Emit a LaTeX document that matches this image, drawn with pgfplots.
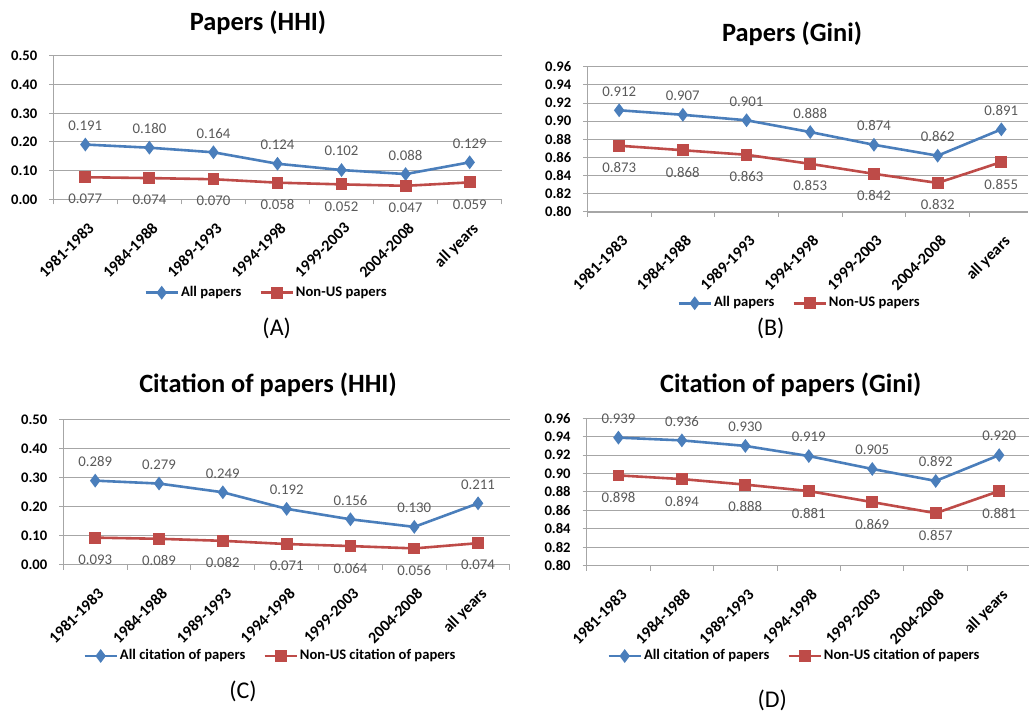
\documentclass[border=0pt]{standalone}
\usepackage{pgfplots}
\pgfplotsset{compat=1.18}
\usepackage{fontspec}
\setmainfont{Carlito}
\definecolor{xblue}{HTML}{4A7EBB}
\definecolor{xred}{HTML}{BE4B48}
\definecolor{gridgray}{HTML}{A6A6A6}
\definecolor{lblgray}{HTML}{595959}

\pgfplotsset{
 panel/.style={
  scale only axis, clip=false, anchor=south west,
  axis lines=left, axis line style={-, draw=gridgray, line width=0.6pt},
  ymajorgrids, grid style={draw=gridgray, line width=0.5pt},
  tick align=outside, major tick length=2pt, minor tick length=2.5pt,
  every tick/.style={draw=gridgray, line width=0.5pt},
  xtick={0,...,6},
  xticklabels={1981-1983,1984-1988,1989-1993,1994-1998,1999-2003,2004-2008,all years},
  minor xtick={-0.5,0.5,...,6.5},
  major x tick style={draw=none},
  x tick label style={yshift=-7.5pt, xshift=0.8pt, rotate=45, anchor=north east, font=\fontsize{8}{9}\selectfont\bfseries, inner sep=1pt},
  y tick label style={font=\fontsize{7.3}{8}\selectfont\bfseries, xshift=-2.5pt},
  yticklabel={\pgfmathprintnumber[fixed,fixed zerofill,precision=2,assume math mode=true]{\tick}},
  xmin=-0.5,
  legend columns=2,
  legend style={draw=none, fill=none, font=\fontsize{7.3}{8}\selectfont\bfseries, anchor=west, inner sep=0pt, nodes={inner sep=1pt}, /tikz/every even column/.append style={column sep=8pt}},
  legend image code/.code={\draw[mark repeat=2,mark phase=2] plot coordinates {(0pt,0pt) (8pt,0pt) (16pt,0pt)};},
  point meta=y,
  nodes near coords={\pgfmathprintnumber[fixed,fixed zerofill,precision=3,assume math mode=true]{\pgfplotspointmeta}},
  every node near coord/.append style={font=\fontsize{7.4}{8}\selectfont, text=lblgray, anchor=center},
 },
 allser/.style={color=xblue, line width=1.3pt, mark=diamond*, mark size=2.4pt, mark options={solid}, every node near coord/.append style={yshift=9.5pt}},
 nonus/.style={color=xred, line width=1.3pt, mark=square*, mark size=2.3pt, mark options={solid}, every node near coord/.append style={yshift=-11pt}},
}

\begin{document}
\begin{tikzpicture}
\useasboundingbox (0,0) rectangle (514.5pt,357.5pt);

% Panel A
\begin{axis}[panel, at={(26.65pt,257.85pt)}, width=224.2pt, height=71.65pt,
  xmax=6.5, ymin=0, ymax=0.5, ytick={0,0.1,0.2,0.3,0.4,0.5},
  legend style={at={(0.2023,-0.652)}}]
\addplot[allser] coordinates {(0,0.191) (1,0.180) (2,0.164) (3,0.124) (4,0.102) (5,0.088) (6,0.129)};
\addlegendentry{All papers}
\addplot[nonus] coordinates {(0,0.077) (1,0.074) (2,0.070) (3,0.058) (4,0.052) (5,0.047) (6,0.059)};
\addlegendentry{Non-US papers}
\end{axis}

% Panel B
\begin{axis}[panel, at={(293.65pt,251.5pt)}, width=220.4pt, height=72.65pt,
  xmax=6.42, ymin=0.8, ymax=0.96, ytick={0.80,0.82,0.84,0.86,0.88,0.90,0.92,0.94,0.96},
  legend style={at={(0.2035,-0.628)}}]
\addplot[allser] coordinates {(0,0.912) (1,0.907) (2,0.901) (3,0.888) (4,0.874) (5,0.862) (6,0.891)};
\addlegendentry{All papers}
\addplot[nonus] coordinates {(0,0.873) (1,0.868) (2,0.863) (3,0.853) (4,0.842) (5,0.832) (6,0.855)};
\addlegendentry{Non-US papers}
\end{axis}

% Panel C
\begin{axis}[panel, at={(31.65pt,75.15pt)}, width=223.35pt, height=72.7pt,
  xmax=6.5, ymin=0, ymax=0.5, ytick={0,0.1,0.2,0.3,0.4,0.5},
  legend style={at={(0.0441,-0.628)}}]
\addplot[allser] coordinates {(0,0.289) (1,0.279) (2,0.249) (3,0.192) (4,0.156) (5,0.130) (6,0.211)};
\addlegendentry{All citation of papers}
\addplot[nonus] coordinates {(0,0.093) (1,0.089) (2,0.082) (3,0.071) (4,0.064) (5,0.056) (6,0.074)};
\addlegendentry{Non-US citation of papers}
\end{axis}

% Panel D
\begin{axis}[panel, at={(293.35pt,74.65pt)}, width=221.15pt, height=73.7pt,
  xmax=6.47, ymin=0.8, ymax=0.96, ytick={0.80,0.82,0.84,0.86,0.88,0.90,0.92,0.94,0.96},
  legend style={at={(0.0459,-0.613)}}]
\addplot[allser] coordinates {(0,0.939) (1,0.936) (2,0.930) (3,0.919) (4,0.905) (5,0.892) (6,0.920)};
\addlegendentry{All citation of papers}
\addplot[nonus] coordinates {(0,0.898) (1,0.894) (2,0.888) (3,0.881) (4,0.869) (5,0.857) (6,0.881)};
\addlegendentry{Non-US citation of papers}
\end{axis}

\node[font=\fontsize{13.2}{15}\selectfont\bfseries] at (129pt,346.15pt) {Papers (HHI)};
\node[font=\fontsize{13.2}{15}\selectfont\bfseries] at (396pt,340.85pt) {Papers (Gini)};
\node[font=\fontsize{13.2}{15}\selectfont\bfseries] at (134pt,165pt) {Citation of papers (HHI)};
\node[font=\fontsize{13.2}{15}\selectfont\bfseries] at (395.35pt,165pt) {Citation of papers (Gini)};

\node[font=\fontsize{12}{14}\selectfont] at (138.35pt,193.5pt) {(A)};
\node[font=\fontsize{12}{14}\selectfont] at (385.35pt,193.5pt) {(B)};
\node[font=\fontsize{12}{14}\selectfont] at (121.5pt,11.65pt) {(C)};
\node[font=\fontsize{12}{14}\selectfont] at (386.15pt,7.5pt) {(D)};
\end{tikzpicture}
\end{document}
